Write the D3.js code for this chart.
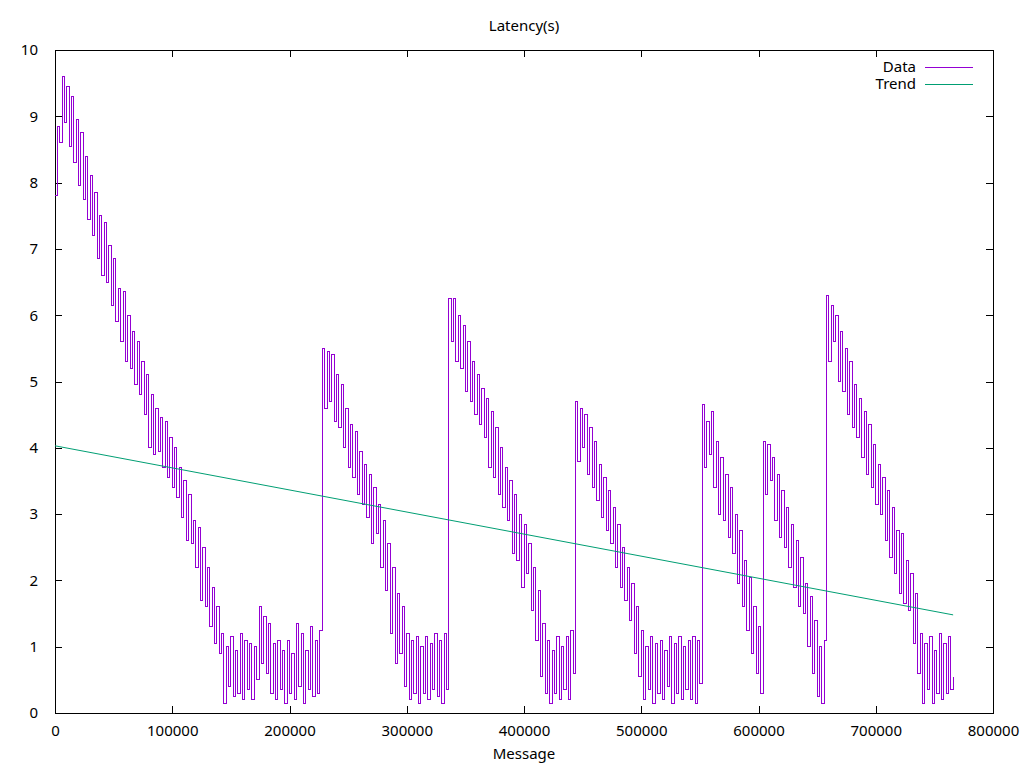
<!DOCTYPE html>
<html>
<head>
<meta charset="utf-8">
<script src="https://cdn.jsdelivr.net/npm/d3@7"></script>
<style>
  body { margin: 0; background: #fff; }
  text { font-family: "Noto Sans", sans-serif; }
</style>
</head>
<body>
<div id="chart"></div>
<script>
// messages are sampled every 2000, each burst starts at its own message number
const messageStep = 2000;

const burstStarts = [0, 228000, 336000, 444000, 552000, 604000, 658000];

const burst1 = [
  7.8, 8.85, 8.6, 9.6, 8.9, 9.45, 8.55, 9.3, 8.3, 8.95, 7.95, 8.75, 7.75, 8.4, 7.45, 8.1,
  7.2, 7.85, 6.85, 7.5, 6.6, 7.4, 6.5, 7.05, 6.15, 6.85, 5.9, 6.4, 5.6, 6.35, 5.3, 6.0,
  5.2, 5.75, 4.95, 5.6, 4.8, 5.3, 4.5, 5.1, 4.0, 4.8, 3.9, 4.6, 3.95, 4.45, 3.7, 4.4,
  3.55, 4.15, 3.4, 4.0, 3.25, 3.7, 2.95, 3.5, 2.6, 3.3, 2.55, 2.9, 2.2, 2.8, 1.7, 2.5,
  1.6, 2.2, 1.3, 1.9, 1.05, 1.6, 0.9, 1.2, 0.15, 1.0, 0.4, 1.15, 0.25, 0.95, 0.3, 1.2,
  0.2, 1.1, 0.35, 1.05, 0.2, 1.0, 0.5, 1.6, 0.75, 1.45, 0.6, 1.35, 0.3, 1.05, 0.2, 1.1,
  0.35, 0.95, 0.15, 1.1, 0.3, 0.9, 0.2, 1.35, 0.4, 1.2, 0.15, 0.95, 0.35, 1.3, 0.25, 1.1,
  0.3, 1.25
];

const burst2 = [
  5.5, 4.6, 5.45, 4.7, 5.4, 4.4, 5.1, 4.3, 4.95, 4.0, 4.6, 3.7, 4.35, 3.55, 4.25, 3.3,
  3.95, 3.15, 3.75, 2.95, 3.6, 2.55, 3.4, 2.7, 3.15, 2.2, 2.9, 1.85, 2.55, 1.2, 2.2, 0.75,
  1.8, 0.9, 1.6, 0.4, 1.2, 0.2, 1.1, 0.3, 1.15, 0.15, 1.0, 0.3, 1.15, 0.2, 1.05, 0.35,
  1.2, 0.25, 1.1, 0.15, 1.2, 0.35
];

const burst3 = [
  6.25, 5.6, 6.25, 5.3, 6.0, 5.2, 5.85, 4.85, 5.6, 4.7, 5.3, 4.5, 5.1, 4.35, 4.9, 4.15,
  4.75, 3.7, 4.55, 3.55, 4.3, 3.3, 4.0, 3.1, 3.7, 2.9, 3.5, 2.4, 3.3, 2.3, 3.0, 1.9,
  2.85, 2.1, 2.55, 1.55, 2.2, 1.1, 1.85, 0.55, 1.35, 0.3, 1.1, 0.15, 0.95, 0.3, 1.15, 0.2,
  1.0, 0.35, 1.15, 0.2, 1.25, 0.6
];

const burst4 = [
  4.7, 3.8, 4.6, 4.0, 4.5, 3.6, 4.3, 3.4, 4.1, 3.2, 3.75, 2.95, 3.55, 2.75, 3.35, 2.55,
  3.1, 2.2, 2.85, 1.9, 2.5, 1.7, 2.2, 1.4, 1.95, 0.9, 1.6, 0.55, 1.25, 0.2, 1.0, 0.35,
  1.15, 0.15, 1.05, 0.3, 1.1, 0.2, 0.95, 0.4, 1.15, 0.15, 1.05, 0.3, 1.15, 0.2, 1.0, 0.35,
  1.1, 0.2, 1.15, 0.15, 1.1, 0.45
];

const burst5 = [
  4.65, 3.7, 4.4, 3.9, 4.55, 3.4, 4.1, 3.0, 3.85, 2.9, 3.6, 2.65, 3.4, 2.4, 3.0, 1.95,
  2.75, 1.6, 2.3, 1.25, 2.05, 0.9, 1.6, 0.6, 1.3, 0.3
];

const burst6 = [
  4.1, 3.3, 4.05, 3.5, 3.85, 2.9, 3.6, 2.65, 3.35, 2.5, 3.1, 2.2, 2.85, 1.9, 2.6, 1.6,
  2.35, 1.5, 1.95, 1.0, 1.75, 0.6, 1.4, 0.25, 1.0, 0.15, 1.1
];

const burst7 = [
  6.3, 5.3, 6.15, 5.6, 6.0, 5.0, 5.75, 4.85, 5.5, 4.5, 5.3, 4.3, 4.95, 4.15, 4.75, 3.85,
  4.55, 3.6, 4.35, 3.4, 4.05, 3.15, 3.75, 3.0, 3.55, 2.6, 3.35, 2.35, 3.1, 2.1, 2.75, 1.8,
  2.7, 1.65, 2.3, 1.55, 2.1, 1.05, 1.8, 0.6, 1.2, 0.15, 1.05, 0.35, 1.15, 0.15, 0.95, 0.3,
  1.2, 0.2, 1.05, 0.3, 1.15, 0.35, 0.55
];

const bursts = [burst1, burst2, burst3, burst4, burst5, burst6, burst7];

// linear trend, end points
const trendMessages = [0, 766000];
const trendLatency = [4.03, 1.48];

const xTicks = [0, 100000, 200000, 300000, 400000, 500000, 600000, 700000, 800000];
const yTicks = [0, 1, 2, 3, 4, 5, 6, 7, 8, 9, 10];

const margin = { top: 50, right: 31, bottom: 55, left: 55 },
      width = 1024 - margin.left - margin.right,
      height = 768 - margin.top - margin.bottom;

const dataColor = "#9400d3";
const trendColor = "#009e73";
const tickLen = 7;

const svgRoot = d3.select("#chart")
  .append("svg")
  .attr("width", 1024)
  .attr("height", 768);

const svg = svgRoot.append("g")
  .attr("transform", `translate(${margin.left}, ${margin.top})`);

const xScale = d3.scaleLinear().domain([0, 800000]).range([0, width]);
const yScale = d3.scaleLinear().domain([0, 10]).range([height, 0]);

let points = [];
bursts.forEach((b, k) => {
  b.forEach((v, i) => points.push({ x: burstStarts[k] + i * messageStep, y: v }));
});

// axes with inward ticks on all four sides
svg.append("g")
  .attr("class", "axis")
  .attr("transform", `translate(0,${height})`)
  .call(d3.axisBottom(xScale).tickValues(xTicks).tickSizeInner(-tickLen).tickSizeOuter(0).tickPadding(12).tickFormat(d3.format("d")));

svg.append("g")
  .attr("class", "axis")
  .call(d3.axisTop(xScale).tickValues(xTicks).tickSizeInner(-tickLen).tickSizeOuter(0).tickFormat(""));

svg.append("g")
  .attr("class", "axis")
  .call(d3.axisLeft(yScale).tickValues(yTicks).tickSizeInner(-tickLen).tickSizeOuter(0).tickPadding(17));

svg.append("g")
  .attr("class", "axis")
  .attr("transform", `translate(${width},0)`)
  .call(d3.axisRight(yScale).tickValues(yTicks).tickSizeInner(-tickLen).tickSizeOuter(0).tickFormat(""));

svg.selectAll(".axis .domain").remove();
svg.selectAll(".axis line").attr("stroke", "#000").attr("shape-rendering", "crispEdges");
svg.selectAll(".axis text")
  .attr("font-family", "Noto Sans")
  .attr("font-size", "15px")
  .attr("fill", "#000");

svg.append("rect")
  .attr("x", 0)
  .attr("y", 0)
  .attr("width", width)
  .attr("height", height)
  .attr("fill", "none")
  .attr("stroke", "#000")
  .attr("shape-rendering", "crispEdges");

const dataLine = d3.line()
  .x(d => xScale(d.x))
  .y(d => yScale(d.y))
  .curve(d3.curveStepAfter);

svg.append("path")
  .attr("fill", "none")
  .attr("stroke", dataColor)
  .attr("stroke-width", 1)
  .attr("shape-rendering", "crispEdges")
  .attr("d", dataLine(points));

const trendLine = d3.line()
  .x((d, i) => xScale(trendMessages[i]))
  .y(d => yScale(d));

svg.append("path")
  .attr("fill", "none")
  .attr("stroke", trendColor)
  .attr("stroke-width", 1)
  .attr("d", trendLine(trendLatency));

// title and axis label
svgRoot.append("text")
  .attr("x", margin.left + width / 2)
  .attr("y", 31)
  .attr("text-anchor", "middle")
  .attr("font-size", "15px")
  .text("Latency(s)");

svgRoot.append("text")
  .attr("x", margin.left + width / 2)
  .attr("y", 759)
  .attr("text-anchor", "middle")
  .attr("font-size", "15px")
  .text("Message");

// legend
const legend = [
  { name: "Data", color: dataColor },
  { name: "Trend", color: trendColor }
];

const legendGroup = svgRoot.append("g")
  .attr("transform", "translate(916, 67)");

legend.forEach((l, i) => {
  const item = legendGroup.append("g").attr("transform", `translate(0, ${i * 17})`);
  item.append("text")
    .attr("x", 0)
    .attr("y", 5)
    .attr("text-anchor", "end")
    .attr("font-size", "15px")
    .text(l.name);
  item.append("line")
    .attr("x1", 9)
    .attr("x2", 57)
    .attr("y1", 0.5)
    .attr("y2", 0.5)
    .attr("stroke", l.color)
    .attr("stroke-width", 1);
});
</script>
</body>
</html>
